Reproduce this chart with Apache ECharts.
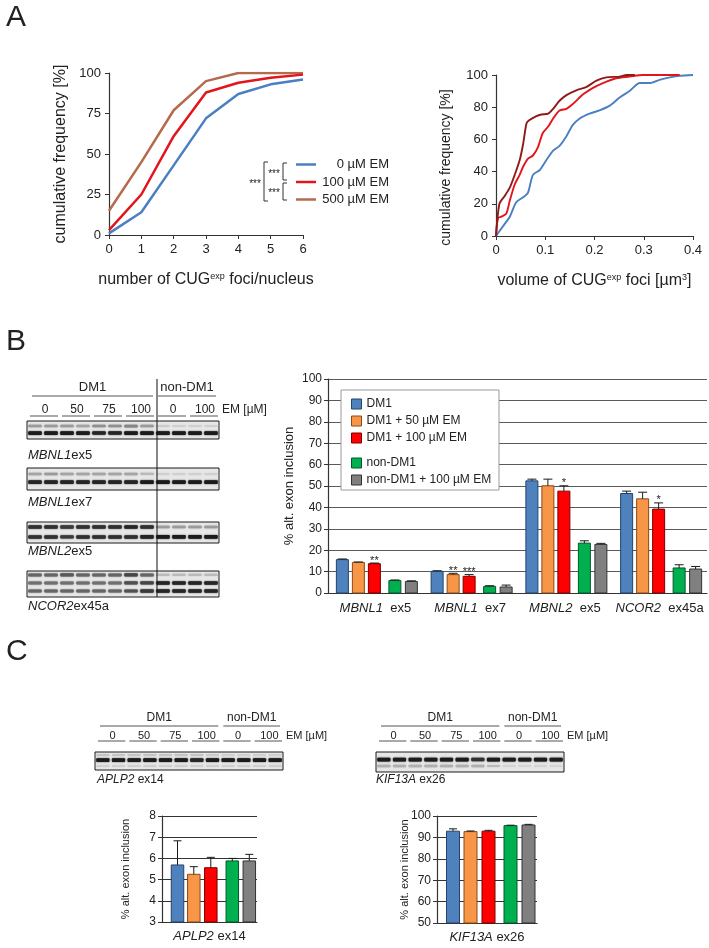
<!DOCTYPE html>
<html><head><meta charset="utf-8">
<script src="https://cdn.jsdelivr.net/npm/echarts@6/dist/echarts.min.js"></script>
<style>html,body{margin:0;padding:0;background:#fff}#c{width:709px;height:948px}</style>
</head><body><div id="c"></div>
<script>
const FONT = "'Liberation Sans', Arial, sans-serif";

// ---------------- Panel A data ----------------
const fociCounts = [0, 1, 2, 3, 4, 5, 6];
const fociEM0 = [1, 14, 43, 72, 87, 93, 96];
const fociEM100 = [3, 25, 61, 88, 94, 97, 99];
const fociEM500 = [15, 45, 77, 95, 100, 100, 100];
const emLegend = ['0 µM EM', '100 µM EM', '500 µM EM'];
const fociSignif = ['***', '***', '***'];

const volEM0 = [[0,0],[0.014,6],[0.028,12],[0.041,21],[0.055,24],[0.065,27],[0.075,38],[0.089,41],[0.102,47],[0.116,53],[0.129,56],[0.143,62],[0.156,69],[0.17,73],[0.19,76],[0.21,78],[0.231,81],[0.251,86],[0.271,90],[0.292,95],[0.312,95],[0.332,97],[0.353,98.5],[0.373,99.5],[0.4,100]];
const volEM100 = [[0,0],[0.004,11],[0.011,12],[0.021,14],[0.028,22],[0.038,32],[0.048,38],[0.055,43],[0.065,48],[0.075,50],[0.085,55],[0.095,64],[0.106,68],[0.116,73],[0.129,78],[0.143,79],[0.156,82],[0.177,88],[0.197,92],[0.217,95],[0.244,98],[0.271,99],[0.298,100],[0.373,100]];
const volEM500 = [[0,0],[0.007,20],[0.018,25],[0.028,30],[0.038,38],[0.048,47],[0.055,57],[0.062,70],[0.068,72],[0.082,74.5],[0.092,75.5],[0.106,76],[0.116,79],[0.129,84],[0.143,87.5],[0.163,90.5],[0.183,92.5],[0.204,96.5],[0.224,98.5],[0.251,99],[0.265,100],[0.282,100]];

// ---------------- Panel B data ----------------
const spliceGenes = ['MBNL1', 'MBNL1', 'MBNL2', 'NCOR2'];
const spliceExons = ['ex5', 'ex7', 'ex5', 'ex45a'];
const groupNames = ['DM1', 'DM1 + 50 µM EM', 'DM1 + 100 µM EM', 'non-DM1', 'non-DM1 + 100 µM EM'];
const incDM1 = [15.6, 10.1, 52.4, 46.5];
const incDM1EM50 = [14.3, 8.6, 50.1, 44.0];
const incDM1EM100 = [13.7, 7.8, 47.6, 39.2];
const incNonDM1 = [5.8, 3.1, 23.3, 11.7];
const incNonDM1EM100 = [5.4, 2.8, 22.7, 11.2];
const sdDM1 = [0.3, 0.3, 0.8, 1.1];
const sdDM1EM50 = [0.2, 0.6, 3.1, 3.1];
const sdDM1EM100 = [0.3, 0.8, 2.5, 2.9];
const sdNonDM1 = [0.3, 0.3, 1.1, 1.5];
const sdNonDM1EM100 = [0.3, 0.9, 0.5, 1.2];
const sigDM1EM50 = ['', '**', '', ''];
const sigDM1EM100 = ['**', '***', '*', '*'];

// ---------------- Panel C data ----------------
const aplp2Event = ['APLP2 ex14'];
const kif13aEvent = ['KIF13A ex26'];
const aplp2Inc = [5.69, 5.25, 5.56, 5.88, 5.88];
const aplp2Sd = [1.14, 0.36, 0.49, 0.12, 0.31];
const kif13aInc = [92.9, 92.7, 92.9, 95.5, 95.8];
const kif13aSd = [1.1, 0.3, 0.4, 0.2, 0.3];

// ---------------- Gel labels & band intensities (0..1 darkness, 12 lanes) ----------------
const gelGroups = ['DM1', 'non-DM1'];
const gelDoses = ['0', '50', '75', '100', '0', '100'];
const gelUnit = 'EM [µM]';
const gelMBNL1ex5 = [
  [0.35,0.35,0.35,0.3,0.4,0.4,0.45,0.35,0.12,0.1,0.1,0.1],
  [0.95,0.95,0.95,0.95,0.9,0.9,0.95,0.95,0.95,0.95,0.95,0.95]];
const gelMBNL1ex7 = [
  [0.3,0.35,0.3,0.3,0.3,0.3,0.3,0.2,0.1,0.1,0.1,0.1],
  [0.9,0.9,0.9,0.9,0.9,0.9,0.9,0.95,0.95,0.95,0.95,0.95]];
const gelMBNL2ex5 = [
  [0.85,0.85,0.8,0.85,0.85,0.85,0.9,0.85,0.35,0.35,0.35,0.35],
  [0.85,0.85,0.8,0.85,0.85,0.85,0.85,0.9,0.95,0.95,0.95,0.95]];
const gelNCOR2ex45a = [
  [0.6,0.6,0.65,0.6,0.6,0.6,0.75,0.6,0.2,0.2,0.2,0.2],
  [0.55,0.55,0.55,0.55,0.55,0.55,0.7,0.75,0.9,0.9,0.9,0.9],
  [0.6,0.6,0.6,0.6,0.6,0.6,0.7,0.8,0.9,0.9,0.9,0.9]];
const gelAPLP2ex14 = [
  [0.15,0.15,0.15,0.15,0.15,0.15,0.15,0.12,0.1,0.1,0.1,0.1],
  [0.95,0.95,0.95,0.95,0.95,0.95,0.9,0.95,0.95,0.95,0.95,0.95],
  [0.1,0.1,0.1,0.1,0.1,0.1,0.1,0.1,0.1,0.1,0.1,0.1]];
const gelKIF13Aex26 = [
  [0.95,0.95,0.95,0.95,0.95,0.95,0.85,0.95,0.95,0.95,0.95,0.95],
  [0.25,0.25,0.25,0.25,0.25,0.25,0.25,0.2,0.08,0.08,0.08,0.08]];

// ---------------- styles / layout ----------------
const lineColorsA = ['#4a7fc1', '#e3151c', '#b5694d'];
const lineColorsA2 = ['#4a7fc1', '#e3151c', '#8f1a1a'];
const barFills = ['#4f81bd', '#f79646', '#ff0000', '#00b050', '#808080'];
const barStrokes = ['#26436b', '#8a4a1a', '#7a0000', '#005a28', '#333333'];
const AX = '#333';

const gelLayouts = [
  {bands: gelMBNL1ex5, left: 27, top: 421, width: 192, height: 18, rows: [0.28, 0.67]},
  {bands: gelMBNL1ex7, left: 27, top: 468, width: 192, height: 22, rows: [0.27, 0.64]},
  {bands: gelMBNL2ex5, left: 27, top: 522, width: 192, height: 21, rows: [0.24, 0.71]},
  {bands: gelNCOR2ex45a, left: 27, top: 571, width: 192, height: 26, rows: [0.15, 0.46, 0.77]},
  {bands: gelAPLP2ex14, left: 95, top: 752, width: 188, height: 18, rows: [0.17, 0.45, 0.78]},
  {bands: gelKIF13Aex26, left: 376, top: 752, width: 188, height: 20, rows: [0.38, 0.7]}
];

function axisCommon(extra) {
  return Object.assign({
    axisLine: {show: true, lineStyle: {color: AX, width: 1.2}},
    axisTick: {show: true, length: 4, lineStyle: {color: AX}},
    axisLabel: {color: '#222', fontSize: 13, fontFamily: FONT},
    splitLine: {show: false},
    nameMoveOverlap: false
  }, extra);
}

const grids = [
  {left: 109, top: 73, width: 194, height: 162},
  {left: 496, top: 75, width: 197, height: 161},
  {left: 328, top: 379, width: 379, height: 214},
  {left: 162, top: 816, width: 95, height: 106},
  {left: 437, top: 816, width: 100, height: 107}
];
const xAxes = [
  axisCommon({gridIndex: 0, type: 'value', min: 0, max: 6, interval: 1,
    name: '{n|number of CUG}{s|exp}{n| foci/nucleus}', nameLocation: 'middle', nameGap: 37,
    nameTextStyle: {rich: {n: {fontSize: 16, color: '#222', fontFamily: FONT}, s: {fontSize: 9, color: '#222', verticalAlign: 'top', fontFamily: FONT}}}}),
  axisCommon({gridIndex: 1, type: 'value', min: 0, max: 0.4, interval: 0.1,
    axisLabel: {color: '#222', fontSize: 13, fontFamily: FONT, formatter: v => v === 0 ? '0' : v.toFixed(1)},
    name: '{n|volume of CUG}{s|exp}{n| foci [µm}{s|3}{n|]}', nameLocation: 'middle', nameGap: 37,
    nameTextStyle: {rich: {n: {fontSize: 16, color: '#222', fontFamily: FONT}, s: {fontSize: 9, color: '#222', verticalAlign: 'top', fontFamily: FONT}}}}),
  axisCommon({gridIndex: 2, type: 'category', data: spliceGenes.map((g, i) => g + ' ' + spliceExons[i]),
    axisTick: {show: false},
    axisLabel: {fontSize: 13, color: '#222', margin: 9, interval: 0,
      formatter: (v, i) => '{i|' + spliceGenes[i] + '}  ' + spliceExons[i],
      rich: {i: {fontStyle: 'italic', fontSize: 13, color: '#222', fontFamily: FONT}}}}),
  axisCommon({gridIndex: 3, type: 'category', data: aplp2Event, axisTick: {show: false},
    axisLabel: {fontSize: 13, color: '#222', margin: 8,
      formatter: v => '{i|' + v.split(' ')[0] + '} ' + v.split(' ')[1],
      rich: {i: {fontStyle: 'italic', fontSize: 13, color: '#222', fontFamily: FONT}}}}),
  axisCommon({gridIndex: 4, type: 'category', data: kif13aEvent, axisTick: {show: false},
    axisLabel: {fontSize: 13, color: '#222', margin: 8,
      formatter: v => '{i|' + v.split(' ')[0] + '} ' + v.split(' ')[1],
      rich: {i: {fontStyle: 'italic', fontSize: 13, color: '#222', fontFamily: FONT}}}})
];
const yAxes = [
  axisCommon({gridIndex: 0, type: 'value', min: 0, max: 100, interval: 25,
    name: 'cumulative frequency [%]', nameLocation: 'middle', nameRotate: 90, nameGap: 40,
    nameTextStyle: {fontSize: 16, color: '#222'}}),
  axisCommon({gridIndex: 1, type: 'value', min: 0, max: 100, interval: 20,
    name: 'cumulative frequency [%]', nameLocation: 'middle', nameRotate: 90, nameGap: 43,
    nameTextStyle: {fontSize: 14, color: '#222', padding: [0, 24, 0, 0]}}),
  axisCommon({gridIndex: 2, type: 'value', min: 0, max: 100, interval: 10,
    axisLabel: {color: '#222', fontSize: 12, fontFamily: FONT, margin: 6},
    splitLine: {show: true, lineStyle: {color: '#5a5a5a', width: 1}},
    name: '% alt. exon inclusion', nameLocation: 'middle', nameRotate: 90, nameGap: 32,
    nameTextStyle: {fontSize: 13, color: '#222'}}),
  axisCommon({gridIndex: 3, type: 'value', min: 3, max: 8, interval: 1,
    axisLabel: {color: '#222', fontSize: 12, fontFamily: FONT, margin: 6},
    splitLine: {show: true, lineStyle: {color: '#333', width: 1}},
    name: '% alt. exon inclusion', nameLocation: 'middle', nameRotate: 90, nameGap: 31,
    nameTextStyle: {fontSize: 11, color: '#222'}}),
  axisCommon({gridIndex: 4, type: 'value', min: 50, max: 100, interval: 10,
    axisLabel: {color: '#222', fontSize: 12, fontFamily: FONT, margin: 6},
    splitLine: {show: true, lineStyle: {color: '#333', width: 1}},
    name: '% alt. exon inclusion', nameLocation: 'middle', nameRotate: 90, nameGap: 27,
    nameTextStyle: {fontSize: 11, color: '#222'}})
];

const series = [];
// Panel A left
[fociEM0, fociEM100, fociEM500].forEach((arr, k) => {
  series.push({type: 'line', name: emLegend[k], xAxisIndex: 0, yAxisIndex: 0, showSymbol: false,
    data: fociCounts.map((c, i) => [c, arr[i]]), lineStyle: {color: lineColorsA[k], width: 2.5},
    itemStyle: {color: lineColorsA[k]}, z: 3 - k + 2});
});
// Panel A right
[volEM0, volEM100, volEM500].forEach((arr, k) => {
  series.push({type: 'line', name: 'vol ' + emLegend[k], xAxisIndex: 1, yAxisIndex: 1, showSymbol: false,
    smooth: 0.25, data: arr, lineStyle: {color: lineColorsA2[k], width: 1.9}, itemStyle: {color: lineColorsA2[k]}});
});

// Bar charts (custom renderer: bar + upward SD error bar + significance)
function barSeries(gridIdx, slot, values, sds, sigs, layout) {
  const fill = barFills[slot], stroke = barStrokes[slot];
  return {
    type: 'custom', name: groupNames[slot], xAxisIndex: gridIdx, yAxisIndex: gridIdx,
    itemStyle: {color: fill, borderColor: stroke},
    data: values.map((v, i) => [i, v, sds[i]]),
    encode: {x: 0, y: 1},
    renderItem: (params, api) => {
      const cat = api.value(0), v = api.value(1), sd = api.value(2);
      const top = api.coord([cat, v]);
      const errTop = api.coord([cat, v + sd]);
      const cs = params.coordSys;
      const baseY = cs.y + cs.height;
      const cx = top[0] + layout.offsets[slot];
      const w = layout.width, cap = layout.cap;
      const ch = [
        {type: 'rect', shape: {x: cx - w / 2, y: top[1], width: w, height: baseY - top[1]},
          style: {fill: fill, stroke: stroke, lineWidth: 1}},
        {type: 'line', shape: {x1: cx, y1: top[1], x2: cx, y2: errTop[1]}, style: {stroke: '#1a1a1a', lineWidth: 1}},
        {type: 'line', shape: {x1: cx - cap / 2, y1: errTop[1], x2: cx + cap / 2, y2: errTop[1]}, style: {stroke: '#1a1a1a', lineWidth: 1}}
      ];
      const s = sigs ? sigs[params.dataIndex] : '';
      if (s) ch.push({type: 'text', style: {text: s, x: cx, y: errTop[1] + 3, align: 'center', verticalAlign: 'bottom',
        fontSize: 11, fill: '#222', fontFamily: FONT}});
      return {type: 'group', children: ch};
    }
  };
}
const layoutB = {offsets: [-33, -17, -1, 19.5, 36], width: 12, cap: 9};
const layoutC1 = {offsets: [-32, -15.7, 1.3, 22.8, 39.8], width: 12.5, cap: 8};
const layoutC2 = {offsets: [-34, -16.5, 1.5, 23.5, 41.5], width: 13, cap: 8};
series.push(barSeries(2, 0, incDM1, sdDM1, null, layoutB));
series.push(barSeries(2, 1, incDM1EM50, sdDM1EM50, sigDM1EM50, layoutB));
series.push(barSeries(2, 2, incDM1EM100, sdDM1EM100, sigDM1EM100, layoutB));
series.push(barSeries(2, 3, incNonDM1, sdNonDM1, null, layoutB));
series.push(barSeries(2, 4, incNonDM1EM100, sdNonDM1EM100, null, layoutB));
for (let k = 0; k < 5; k++) {
  series.push(barSeries(3, k, [aplp2Inc[k]], [aplp2Sd[k]], null, layoutC1));
  series.push(barSeries(4, k, [kif13aInc[k]], [kif13aSd[k]], null, layoutC2));
}

// Gels: one hidden cartesian grid per gel, bands via custom series
gelLayouts.forEach((g, n) => {
  const gi = grids.length;
  grids.push({left: g.left, top: g.top, width: g.width, height: g.height, show: true,
    backgroundColor: '#e7e7e7', borderColor: '#1a1a1a', borderWidth: 1});
  xAxes.push({gridIndex: gi, type: 'value', min: 0, max: 12, show: false});
  yAxes.push({gridIndex: gi, type: 'value', min: 0, max: 1, inverse: true, show: false});
  const data = [];
  g.bands.forEach((arr, b) => arr.forEach((val, lane) => data.push([lane + 0.5, g.rows[b], val])));
  series.push({type: 'custom', xAxisIndex: gi, yAxisIndex: gi, silent: true, data: data, encode: {x: 0, y: 1},
    renderItem: (params, api) => {
      const p = api.coord([api.value(0), api.value(1)]);
      const lw = api.size([1, 0])[0];
      const val = api.value(2);
      const gv = Math.round(228 - val * 212);
      const col = 'rgb(' + gv + ',' + gv + ',' + gv + ')';
      const h = 1.8 + val * 2;
      return {type: 'rect', shape: {x: p[0] - lw * 0.42, y: p[1] - h / 2, width: lw * 0.84, height: h, r: 1},
        style: {fill: col, shadowBlur: 1.5, shadowColor: col}};
    }});
});

// ---------------- graphic annotations ----------------
const G = [];
function txt(x, y, text, size, opts) {
  G.push({type: 'text', x: x, y: y, z: 10, style: Object.assign({text: text, fontSize: size, fontFamily: FONT,
    fill: '#222', align: 'left', verticalAlign: 'middle'}, opts || {})});
}
function ln(x1, y1, x2, y2, color, w) {
  G.push({type: 'line', z: 10, shape: {x1: x1, y1: y1, x2: x2, y2: y2}, style: {stroke: color || '#444', lineWidth: w || 1}});
}
txt(6, 18, 'A', 30);
txt(6, 342, 'B', 30);
txt(6, 652, 'C', 30);

// significance brackets panel A
G.push({type: 'polyline', z: 10, shape: {points: [[287, 163], [283, 163], [283, 180], [287, 180]]}, style: {stroke: '#333', fill: null, lineWidth: 1}});
G.push({type: 'polyline', z: 10, shape: {points: [[287, 183], [283, 183], [283, 200], [287, 200]]}, style: {stroke: '#333', fill: null, lineWidth: 1}});
G.push({type: 'polyline', z: 10, shape: {points: [[268, 162], [264, 162], [264, 201], [268, 201]]}, style: {stroke: '#333', fill: null, lineWidth: 1}});
txt(274, 174, fociSignif[0], 10, {align: 'center'});
txt(274, 193, fociSignif[1], 10, {align: 'center'});
txt(255, 184, fociSignif[2], 10, {align: 'center'});

// gel headers
function gelHeader(left, width, top, o) {
  const lw = width / 12;
  ln(left + 5, top - o.group, left + 8 * lw - 2, top - o.group, '#555');
  ln(left + 8 * lw + 3, top - o.group, left + 12 * lw - 3, top - o.group, '#555');
  txt((left + 5 + left + 8 * lw - 2) / 2, top - o.groupText, gelGroups[0], o.gs, {align: 'center'});
  txt((left + 8 * lw + 3 + left + 12 * lw - 3) / 2, top - o.groupText, gelGroups[1], o.gs, {align: 'center'});
  gelDoses.forEach((d, k) => {
    ln(left + 2 * k * lw + 3, top - o.under, left + (2 * k + 2) * lw - 1, top - o.under, '#555');
    txt(left + (2 * k + 1) * lw + 2, top - o.dose, d, o.ds, {align: 'center'});
  });
  txt(left + 12 * lw + 3, top - o.dose, gelUnit, o.us);
}
gelHeader(27, 192, 421, {group: 25, groupText: 34, under: 5, dose: 11, gs: 13, ds: 12, us: 12});
gelHeader(95, 188, 752, {group: 26, groupText: 34, under: 11, dose: 16, gs: 12, ds: 11, us: 11});
gelHeader(376, 188, 752, {group: 26, groupText: 34, under: 11, dose: 16, gs: 12, ds: 11, us: 11});

// gene labels under gels
const geneRich = {i: {fontStyle: 'italic', fontFamily: FONT, fontSize: 13, fill: '#222'}, r: {fontFamily: FONT, fontSize: 13, fill: '#222'}};
const gelLabelY = [455, 502, 551, 606];
spliceGenes.forEach((g, i) => txt(28, gelLabelY[i], '{i|' + g + '}{r|' + spliceExons[i] + '}', 13, {rich: geneRich}));
const geneRichC = {i: {fontStyle: 'italic', fontFamily: FONT, fontSize: 12, fill: '#222'}, r: {fontFamily: FONT, fontSize: 12, fill: '#222'}};
txt(97, 780, '{i|' + aplp2Event[0].split(' ')[0] + '}{r| ' + aplp2Event[0].split(' ')[1] + '}', 12, {rich: geneRichC});
txt(376, 780, '{i|' + kif13aEvent[0].split(' ')[0] + '}{r| ' + kif13aEvent[0].split(' ')[1] + '}', 12, {rich: geneRichC});

// vertical separator across panel B gels
ln(157, 379, 157, 597, '#111', 1);

// legend box panel B
G.push({type: 'rect', z: 4, shape: {x: 341, y: 390, width: 158, height: 100}, style: {fill: '#fff', stroke: '#9a9a9a', lineWidth: 1}});

const legendItems = groupNames.map((n, k) => ({name: n, itemStyle: {color: barFills[k], borderColor: barStrokes[k], borderWidth: 1}}));

const option = {
  animation: false,
  textStyle: {fontFamily: FONT},
  grid: grids,
  xAxis: xAxes,
  yAxis: yAxes,
  legend: [
    {data: emLegend, orient: 'vertical', left: 291, top: 153, icon: 'rect', itemWidth: 20, itemHeight: 2.5, itemGap: 4.5,
      selectedMode: false, formatter: '{r|{name}}',
      textStyle: {rich: {r: {width: 68, align: 'right', fontSize: 13, color: '#222', lineHeight: 14, fontFamily: FONT}}}},
    {data: legendItems.slice(0, 3), orient: 'vertical', left: 346, top: 392, icon: 'rect', itemWidth: 10, itemHeight: 10,
      itemGap: 3, selectedMode: false, z: 6, textStyle: {fontSize: 12, color: '#222', fontFamily: FONT, lineHeight: 14}},
    {data: legendItems.slice(3), orient: 'vertical', left: 346, top: 451, icon: 'rect', itemWidth: 10, itemHeight: 10,
      itemGap: 3, selectedMode: false, z: 6, textStyle: {fontSize: 12, color: '#222', fontFamily: FONT, lineHeight: 14}}
  ],
  series: series,
  graphic: {elements: G}
};
const chart = echarts.init(document.getElementById('c'), null, {renderer: 'canvas'});
chart.setOption(option);
</script></body></html>
